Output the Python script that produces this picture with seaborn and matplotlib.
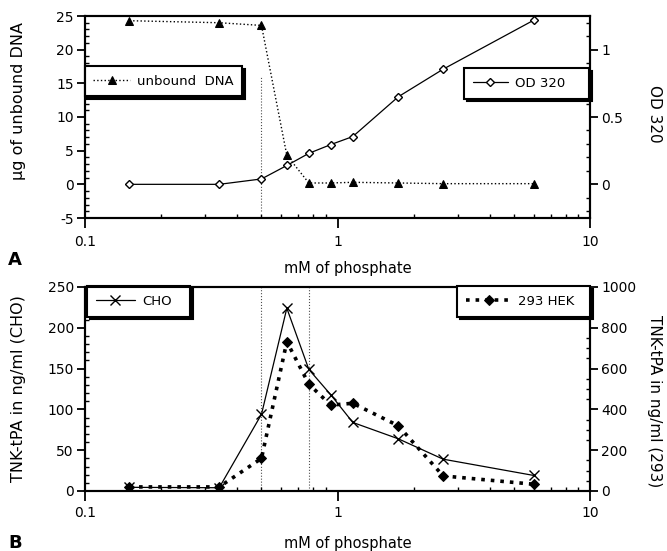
import numpy as np
import pandas as pd
import seaborn as sns
import matplotlib.pyplot as plt
from matplotlib.ticker import MultipleLocator, FixedLocator, FixedFormatter, LogLocator, NullFormatter

# mM of phosphate (shared x for both panels)
phosphate = [0.15, 0.34, 0.5, 0.63, 0.77, 0.94, 1.15, 1.74, 2.62, 6.0]
# panel A
unbound_dna = [24.3, 24.0, 23.6, 4.3, 0.2, 0.2, 0.3, 0.2, 0.1, 0.1]
od320 = [0.0, 0.0, 0.04, 0.14, 0.23, 0.295, 0.355, 0.65, 0.855, 1.22]
# panel B
cho = [4.5, 4.0, 94, 224, 149, 118, 84, 64, 39, 19]
hek293 = [20, 20, 160, 732, 524, 421, 430, 320, 74, 33]

x_ticks = [0.1, 1, 10]
x_ticklabels = ['0.1', '1', '10']

sns.set_theme(style="ticks")
plt.rcParams['font.family'] = ['DejaVu Sans']
plt.rcParams['axes.unicode_minus'] = False
plt.rcParams['axes.edgecolor'] = 'black'
plt.rcParams['xtick.color'] = 'black'
plt.rcParams['ytick.color'] = 'black'
plt.rcParams['text.color'] = 'black'
plt.rcParams['axes.labelcolor'] = 'black'

W, H = 667, 551
fig = plt.figure(figsize=(W / 100, H / 100), dpi=100)
axA = fig.add_axes([85 / W, 1 - 218 / H, 505 / W, 202 / H])
axB = fig.add_axes([85 / W, 1 - 491 / H, 505 / W, 204 / H])
axA2 = axA.twinx()
axB2 = axB.twinx()

# panel A
sns.lineplot(x=phosphate, y=unbound_dna, ax=axA, color='black', linestyle=':', lw=1,
             marker='^', markersize=6, markeredgecolor='black', markerfacecolor='black',
             label='unbound  DNA')
sns.lineplot(x=phosphate, y=od320, ax=axA2, color='black', linestyle='-', lw=0.9,
             marker='D', markersize=4.5, markeredgecolor='black', markerfacecolor='white',
             markeredgewidth=1, label='OD 320')

# panel B
sns.lineplot(x=phosphate, y=cho, ax=axB, color='black', linestyle='-', lw=0.9,
             marker='x', markersize=7, markeredgecolor='black', markeredgewidth=1,
             label='CHO')
sns.lineplot(x=phosphate, y=hek293, ax=axB2, color='black', linestyle=':', lw=2.6,
             marker='D', markersize=5, markeredgecolor='black', markerfacecolor='black',
             label='293 HEK')

# scan leftovers of dotted grid lines
axA.axvline(0.5, ymin=1/30, ymax=21/30, color='0.3', ls=':', lw=0.8, zorder=0)
axB.axvline(0.5, color='0.3', ls=':', lw=0.8, zorder=0)
axB.axvline(0.77, color='0.3', ls=':', lw=0.8, zorder=0)

for ax, pad in ((axA, 5), (axB, 3.5)):
    ax.set_xscale('log')
    ax.set_xlim(0.1, 10)
    ax.xaxis.set_major_locator(FixedLocator(x_ticks))
    ax.xaxis.set_major_formatter(FixedFormatter(x_ticklabels))
    ax.xaxis.set_minor_locator(LogLocator(base=10, subs=np.arange(2, 10)))
    ax.xaxis.set_minor_formatter(NullFormatter())
    ax.tick_params(axis='x', which='major', direction='out', length=7, width=1.3, pad=pad, labelsize=10)
    ax.tick_params(axis='x', which='minor', direction='in', length=3, width=1)

for ax in (axA, axA2, axB, axB2):
    for s in ax.spines.values():
        s.set_linewidth(1.5)
        s.set_color('black')
    ax.tick_params(axis='y', which='major', direction='out', length=6, width=1.3, labelsize=10, pad=2)
    ax.tick_params(axis='y', which='minor', direction='in', length=3, width=1)

axA.set_ylim(-5, 25)
axA.yaxis.set_major_locator(MultipleLocator(5))
axA.yaxis.set_minor_locator(MultipleLocator(1))
axA2.set_ylim(-0.25, 1.25)
axA2.set_yticks([0, 0.5, 1])
axA2.set_yticklabels(['0', '0.5', '1'])
axA2.yaxis.set_minor_locator(MultipleLocator(0.1))

axB.set_ylim(0, 250)
axB.yaxis.set_major_locator(MultipleLocator(50))
axB.yaxis.set_minor_locator(MultipleLocator(10))
axB2.set_ylim(0, 1000)
axB2.yaxis.set_major_locator(MultipleLocator(200))
axB2.yaxis.set_minor_locator(MultipleLocator(50))

# axis labels
axA.set_xlabel('mM of phosphate', fontsize=10.5, va='center')
axA.xaxis.set_label_coords(0.521, -0.248)
axB.set_xlabel('mM of phosphate', fontsize=10.5, va='center')
axB.xaxis.set_label_coords(0.521, -0.255)

axA.set_ylabel('µg of unbound DNA', fontsize=11.5, va='center')
axA.yaxis.set_label_coords(-0.131, 0.579)
axA2.set_ylabel('OD 320', fontsize=11, rotation=-90, va='center')
axA2.yaxis.set_label_coords(1.127, 0.515)
axB.set_ylabel('TNK-tPA in ng/ml (CHO)', fontsize=11.5, va='center')
axB.yaxis.set_label_coords(-0.131, 0.5)
axB2.set_ylabel('TNK-tPA in ng/ml (293)', fontsize=11, rotation=-90, va='center')
axB2.yaxis.set_label_coords(1.128, 0.44)

# legends (boxes with a hard black shadow like the original)
leg_kw = dict(frameon=True, fancybox=False, framealpha=1, edgecolor='black', fontsize=9.5,
              handletextpad=0.5, borderpad=0.65, borderaxespad=0,
              bbox_transform=fig.transFigure, shadow={'color': 'black', 'alpha': 1})
legA = axA.legend(loc='upper right', bbox_to_anchor=(242 / W, 1 - 66 / H),
                  handlelength=2.8, **leg_kw)
legA2 = axA2.legend(loc='upper left', mode='expand',
                    bbox_to_anchor=(464 / W, 1 - 69 / H, 125 / W, 0.001),
                    handlelength=2.7, **leg_kw)
legB = axB.legend(loc='upper left', mode='expand',
                  bbox_to_anchor=(87 / W, 1 - 287 / H, 103 / W, 0.001),
                  handlelength=3.0, **leg_kw)
legB2 = axB2.legend(loc='upper left', mode='expand',
                    bbox_to_anchor=(457 / W, 1 - 287 / H, 133 / W, 0.001),
                    handlelength=3.5, **leg_kw)
for leg in (legA, legA2, legB, legB2):
    leg.get_frame().set_linewidth(1.5)

fig.text(8 / W, 1 - 265 / H, 'A', fontsize=13, fontweight='bold')
fig.text(8 / W, 1 - 548 / H, 'B', fontsize=13, fontweight='bold')

fig.savefig('out.png', dpi=100, facecolor='white')
